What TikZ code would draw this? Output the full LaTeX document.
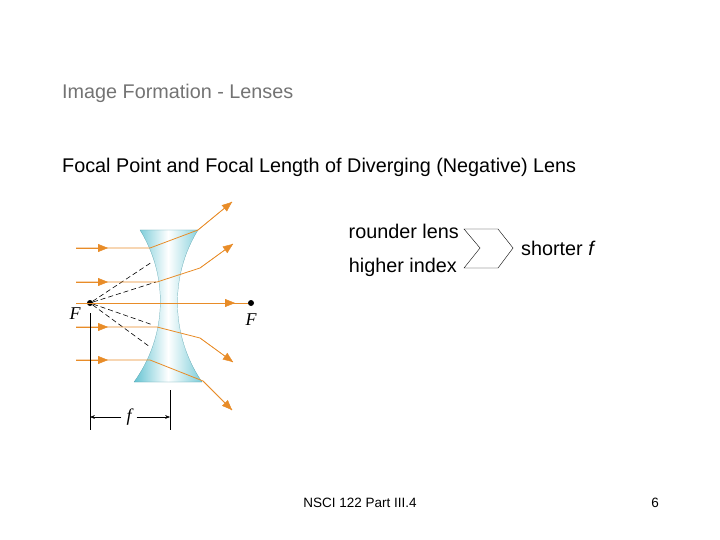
\documentclass[tikz,border=0pt]{standalone}
\usepackage{fontspec}
\setmainfont{Liberation Sans}
\newfontfamily\serifF{Liberation Serif}
\usetikzlibrary{arrows.meta}
\definecolor{ray}{RGB}{232,140,40}
\definecolor{lensc}{RGB}{100,195,210}
\begin{document}
\begin{tikzpicture}[x=1pt,y=-1pt,>=Stealth]
\tikzset{
    txt/.style={anchor=west, inner sep=0pt, font=\fontsize{19.8}{22}\selectfont},
    rayl/.style={ray, thick},
    arr/.style={ray, -{Triangle[length=10pt,width=8pt]}},
    fpt/.style={circle, fill=black, inner sep=0pt, minimum size=6pt},
    flab/.style={font=\serifF\itshape\fontsize{18}{18}\selectfont, inner sep=0pt},
}
\useasboundingbox (0,0) rectangle (720,540);
%%%TEXTS
\node[txt, gray!90!black] (title) at (62,93) {Image Formation - Lenses};
\node[txt] (sub) at (62,167) {Focal Point and Focal Length of Diverging (Negative) Lens};
\node[txt, anchor=east] (round) at (459,231) {rounder lens};
\node[txt, anchor=east] (index) at (457,267) {higher index};
\node[txt] (short) at (521,248) {shorter \textit{f}};
\node[font=\fontsize{13.5}{15}\selectfont] (foot) at (360,503) {NSCI 122 Part III.4};
\node[font=\fontsize{13.5}{15}\selectfont] (page) at (655,503) {6};
%%%CHEVRON
\draw (464,229) -- (498,229) -- (513,248) -- (498,268) -- (464,268) -- (480,248) -- cycle;
%%%LENS
\shade[left color=lensc, right color=lensc!85, middle color=white, draw=lensc!80!black, very thin]
  (140,230) -- (198,230) .. controls (170,275) and (170,335) .. (202,382)
  -- (134,382) .. controls (168,335) and (168,275) .. (140,230) -- cycle;
%%%FOCAL POINTS
\node[fpt] (fl) at (90,303) {};
\node[fpt] (fr) at (251,303) {};
\node[flab] at (75,314) {F};
\node[flab] at (251,320) {F};
%%%DASHED
\foreach \p in {(152,262),(156,282),(153,325),(150,347)}
  \draw[dashed, semithick, dash pattern=on 5pt off 3pt] (fl) -- \p;
%%%RAYS
\foreach \y/\xa/\xb/\yb/\xc/\yc in {248/150/198/230/232/202, 282/157/200/268/233/244,
                                    327/157/200/338/233/362, 360/150/203/381/232/410}{
  \draw[rayl] (76,\y) -- (\xa,\y) -- (\xb,\yb) -- (\xc,\yc);
  \draw[arr] (\xb,\yb) -- (\xc,\yc);
  \draw[arr] (76,\y) -- (108,\y);
}
\draw[rayl] (76,303) -- (fr);
\draw[arr] (150,303) -- (235,303);
%%%FOCAL LENGTH
\draw (90,313) -- (90,430);
\draw (170,390) -- (170,430);
\node[flab] (f) at (129,417) {f};
\draw[->] (f.west) ++(-5,0) -- (90,417);
\draw[->] (f.east) ++(5,0) -- (170,417);
\end{tikzpicture}
\end{document}
